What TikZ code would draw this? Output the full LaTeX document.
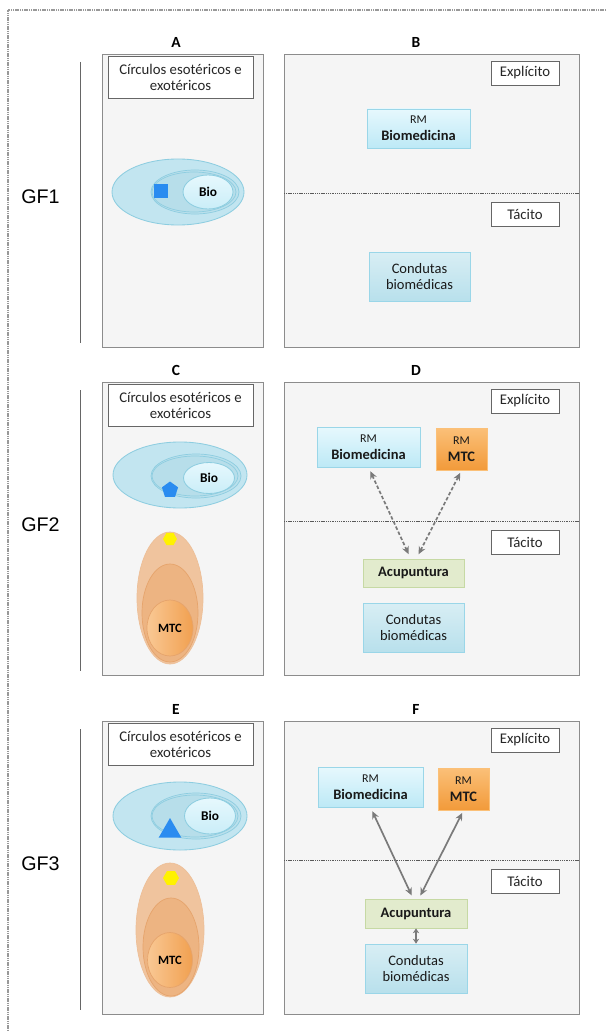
\documentclass[tikz,border=0pt]{standalone}
\usepackage{fontspec}
\setmainfont{Carlito}
\newfontfamily\arialfont{Liberation Sans}
\usetikzlibrary{shapes.geometric,arrows.meta,shadows}

\definecolor{bioTop}{HTML}{E6F8FD}
\definecolor{bioBot}{HTML}{BDE9F6}
\definecolor{bioLine}{HTML}{9AD6E8}
\definecolor{condTop}{HTML}{D8EEF4}
\definecolor{condBot}{HTML}{B8E0EC}
\definecolor{acuFill}{HTML}{E2EBCD}
\definecolor{acuLine}{HTML}{C6D9A4}
\definecolor{mtcTop}{HTML}{FBC078}
\definecolor{mtcBot}{HTML}{F29A3A}
\definecolor{ellOut}{HTML}{C2E5F0}
\definecolor{ellMid}{HTML}{B6DEEA}
\definecolor{ellLine}{HTML}{8DCDE0}
\definecolor{orgOut}{HTML}{F0C49E}
\definecolor{orgMid}{HTML}{EDB07B}
\definecolor{orgLine}{HTML}{E6A46C}
\definecolor{orgLeft}{HTML}{F9C894}
\definecolor{orgRight}{HTML}{F1A050}
\definecolor{shapeBlue}{HTML}{2A8CF0}
\definecolor{arrGray}{HTML}{7A7A7A}

\newcommand\rmline{{\fontsize{8.5}{10}\selectfont RM}}

\tikzset{
  sz/.style 2 args={minimum width=#1*0.025cm, minimum height=#2*0.025cm},
  panel/.style={draw=black!45, fill=black!4, line width=0.6pt},
  frame/.style={draw=black!40, line width=0.9pt, dash pattern=on 1pt off 0.6pt},
  divider/.style={draw=black!65, line width=0.5pt, dash pattern=on 0.8pt off 0.5pt},
  sideline/.style={draw=black!60, line width=0.6pt},
  ttl/.style={font=\bfseries\fontsize{11}{12}\selectfont},
  gf/.style={font=\arialfont\fontsize{14}{16}\selectfont},
  lbl/.style={draw=black!60, fill=white, inner sep=0pt, line width=0.5pt,
    align=center, text=black!85, font=\fontsize{10.5}{11.5}\selectfont},
  colbox/.style={inner sep=0pt, align=center, line width=0.5pt, text=black!90,
    font=\fontsize{10.3}{12}\selectfont,
    drop shadow={opacity=0.2, shadow xshift=0.8pt, shadow yshift=-0.8pt}},
  cyanbox/.style={colbox, draw=bioLine, top color=bioTop, bottom color=bioBot},
  condbox/.style={colbox, draw=bioLine, top color=condTop, bottom color=condBot},
  orangebox/.style={colbox, draw=mtcTop, top color=mtcTop, bottom color=mtcBot},
  acubox/.style={colbox, draw=acuLine, fill=acuFill},
  blueell/.style={draw=ellLine, fill=ellOut, line width=0.6pt},
  bluemid/.style={draw=ellLine, fill=ellMid, fill opacity=0.6, line width=0.5pt},
  bioell/.style={ellipse, inner sep=0pt, draw=ellLine, line width=0.6pt,
    top color=bioTop, bottom color=bioBot!80,
    font=\bfseries\fontsize{9.5}{10}\selectfont},
  orgell/.style={draw=orgLine!70, fill=orgOut, line width=0.5pt},
  orgmid/.style={draw=orgLine, fill=orgMid, fill opacity=0.8, line width=0.5pt},
  mtcell/.style={ellipse, inner sep=0pt, draw=orgLine, line width=0.5pt,
    left color=orgLeft, right color=orgRight,
    font=\bfseries\fontsize{9}{10}\selectfont},
  shapefill/.style={fill=shapeBlue, inner sep=0pt},
  hexfill/.style={regular polygon, regular polygon sides=6, fill=yellow,
    inner sep=0pt, minimum size=14*0.025cm},
  link/.style={draw=arrGray, line width=1.2pt,
    {Stealth[length=5.5pt,width=5pt]}-{Stealth[length=5.5pt,width=5pt]}},
  dashlink/.style={link, dash pattern=on 2.5pt off 1.5pt},
  shortlink/.style={draw=arrGray, line width=1.2pt,
    {Stealth[length=3.5pt,width=4.5pt]}-{Stealth[length=3.5pt,width=4.5pt]}}
}

\begin{document}
\begin{tikzpicture}[x=0.025cm, y=-0.025cm]
  \fill[white] (0,0) rectangle (606,1031);
  \useasboundingbox (0,0) rectangle (606,1031);
  \draw[frame] (606,10) -- (8,10) -- (8,1031);

  \foreach \t/\g/\l/\r [count=\i] in {54/GF1/A/B, 382/GF2/C/D, 721/GF3/E/F}{
    \draw[panel] (102,\t) rectangle (263,\t+293);
    \draw[panel] (284,\t) rectangle (579,\t+293);
    \node[ttl] (ttl\l) at (176,\t-12) {\l};
    \node[ttl] (ttl\r) at (416,\t-12) {\r};
    \node[lbl, sz={145}{42}] (circ\i) at (180.5,\t+23.5) {Círculos esotéricos e\\exotéricos};
    \node[lbl, sz={68}{24}] (expl\i) at (525,\t+19) {Explícito};
    \node[lbl, sz={68}{24}] (tac\i) at (525,\t+160) {Tácito};
    \draw[divider] (284,\t+139) -- (579,\t+139);
    \draw[sideline] (80.5,\t+8) -- (80.5,\t+289);
    \node[gf] (gf\i) at (40.5,\t+143) {\g};
  }

  % A
  \draw[blueell] (178,192) ellipse [x radius=66, y radius=33];
  \draw[bluemid] (195,192) ellipse [x radius=44, y radius=22];
  \draw[bluemid] (194,192) ellipse [x radius=42, y radius=20];
  \node[bioell, sz={50}{34}] (bioA) at (208,192) {Bio};
  \node[shapefill, sz={14}{14}] (sqA) at (161,191) {};

  % B
  \node[cyanbox, sz={103}{39}] (rmbB) at (418.5,128.5) {\rmline\\\textbf{Biomedicina}};
  \node[condbox, sz={101}{49}] (condB) at (419.5,276.5) {Condutas\\biomédicas};

  % C
  \draw[blueell] (180,475) ellipse [x radius=67, y radius=33];
  \draw[bluemid] (196,476) ellipse [x radius=45, y radius=22];
  \draw[bluemid] (195,476) ellipse [x radius=43, y radius=20];
  \node[bioell, sz={51}{31}] (bioC) at (209,478) {Bio};
  \node[shapefill, regular polygon, regular polygon sides=5, minimum size=17*0.025cm] (pentC) at (170,490) {};
  \draw[orgell] (170,598) ellipse [x radius=33, y radius=66];
  \draw[orgmid] (170,613) ellipse [x radius=28, y radius=49];
  \node[mtcell, sz={46}{56}] (mtcC) at (170,628) {MTC};
  \node[hexfill] (hexC) at (170,539) {};

  % D
  \node[cyanbox, sz={103}{40}] (rmbD) at (368.5,447) {\rmline\\\textbf{Biomedicina}};
  \node[orangebox, sz={51}{42}] (rmtD) at (461.5,449) {\rmline\\\textbf{MTC}};
  \node[acubox, sz={101}{28}] (acuD) at (413.5,573) {\textbf{Acupuntura}};
  \node[condbox, sz={101}{49}] (condD) at (413.5,627.5) {Condutas\\biomédicas};
  \draw[dashlink, shorten <=3pt, shorten >=3.5pt] (rmbD.south) -- ([xshift=-2pt]acuD.north);
  \draw[dashlink, shorten <=2pt, shorten >=3.5pt] (rmtD.south) -- ([xshift=2pt]acuD.north);

  % E
  \draw[blueell] (180,816) ellipse [x radius=67, y radius=34];
  \draw[bluemid] (196,816) ellipse [x radius=45, y radius=23];
  \draw[bluemid] (195,816) ellipse [x radius=43, y radius=21];
  \node[bioell, sz={51}{36}] (bioE) at (210,816) {Bio};
  \node[shapefill, regular polygon, regular polygon sides=3, minimum size=26*0.025cm] (triE) at (170,831) {};
  \draw[orgell] (170,930) ellipse [x radius=34, y radius=67];
  \draw[orgmid] (171,947) ellipse [x radius=28, y radius=49];
  \node[mtcell, sz={45}{55}] (mtcE) at (170,960) {MTC};
  \node[hexfill, minimum size=16*0.025cm] (hexE) at (171,878) {};

  % F
  \node[cyanbox, sz={105}{40}] (rmbF) at (370.5,787) {\rmline\\\textbf{Biomedicina}};
  \node[orangebox, sz={51}{42}] (rmtF) at (463.5,789) {\rmline\\\textbf{MTC}};
  \node[acubox, sz={102}{29}] (acuF) at (416,913.5) {\textbf{Acupuntura}};
  \node[condbox, sz={102}{49}] (condF) at (416,968.5) {Condutas\\biomédicas};
  \draw[link, shorten <=3pt, shorten >=2.5pt] (rmbF.south) -- ([xshift=-2pt]acuF.north);
  \draw[link, shorten <=2pt, shorten >=2.5pt] (rmtF.south) -- ([xshift=2pt]acuF.north);
  \draw[shortlink] (acuF.south) -- (condF.north);
\end{tikzpicture}
\end{document}
